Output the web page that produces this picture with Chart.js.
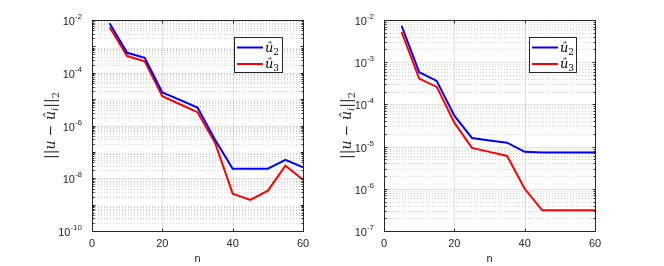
<!DOCTYPE html>
<html>
<head>
<meta charset="utf-8">
<script src="https://cdn.jsdelivr.net/npm/chart.js@4/dist/chart.umd.min.js"></script>
<style>
  html, body { margin: 0; padding: 0; background: #fff; }
  #wrap { position: relative; width: 664px; height: 266px; }
  canvas { position: absolute; top: 0; }
  #c1 { left: 0; }
  #c2 { left: 332px; }
</style>
</head>
<body>
<div id="wrap">
  <canvas id="c1" width="332" height="266"></canvas>
  <canvas id="c2" width="332" height="266"></canvas>
</div>
<script>
// data
const nVals = [5, 10, 15, 20, 25, 30, 35, 40, 45, 50, 55, 60];
const leftU2 = [7.5e-3, 5.7e-4, 3.7e-4, 1.8e-5, 9.3e-6, 4.8e-6, 2.9e-7, 2.3e-8, 2.3e-8, 2.3e-8, 5.0e-8, 2.6e-8];
const leftU3 = [5.3e-3, 4.3e-4, 2.7e-4, 1.3e-5, 6.4e-6, 3.2e-6, 2.2e-7, 2.6e-9, 1.5e-9, 3.4e-9, 3.0e-8, 8.7e-9];
const rightU2 = [7.3e-3, 5.8e-4, 3.6e-4, 5.4e-5, 1.6e-5, 1.4e-5, 1.24e-5, 7.5e-6, 7.2e-6, 7.2e-6, 7.2e-6, 7.2e-6];
const rightU3 = [5.2e-3, 4.1e-4, 2.6e-4, 3.7e-5, 9.3e-6, 7.5e-6, 6.0e-6, 1.0e-6, 3.1e-7, 3.1e-7, 3.1e-7, 3.1e-7];
const xTicks = [0, 20, 40, 60];
const leftExps = [-10, -8, -6, -4, -2];
const rightExps = [-7, -6, -5, -4, -3, -2];
const seriesNames = ['2', '3'];
const seriesColors = ['#0000ff', '#ff0000'];

const AX = '#262626';
const TICK_FONT = '11px "Liberation Sans", Arial, sans-serif';
const SUP_FONT = '8px "Liberation Sans", Arial, sans-serif';

function pts(ys) {
  return nVals.map(function(n, i) { return { x: n, y: ys[i] }; });
}

// draws grid, box, ticks, legend and labels the matlab way
function matlabAxes(exps, legendBox, ylabelX) {
  return {
    id: 'matlabAxes',
    beforeDatasetsDraw: function(chart) {
      var ctx = chart.ctx, a = chart.chartArea;
      var xs = chart.scales.x, ys = chart.scales.y;
      ctx.save();
      ctx.lineWidth = 1;
      // minor dotted grid
      ctx.strokeStyle = 'rgba(38,38,38,0.22)';
      ctx.setLineDash([1, 2]);
      for (var e = exps[0]; e < exps[exps.length - 1]; e++) {
        for (var k = 2; k <= 9; k++) {
          var y = Math.round(ys.getPixelForValue(k * Math.pow(10, e))) + 0.5;
          ctx.beginPath(); ctx.moveTo(a.left, y); ctx.lineTo(a.right, y); ctx.stroke();
        }
      }
      // major grid
      ctx.setLineDash([]);
      ctx.strokeStyle = 'rgba(38,38,38,0.13)';
      exps.forEach(function(e) {
        var y = Math.round(ys.getPixelForValue(Math.pow(10, e))) + 0.5;
        ctx.beginPath(); ctx.moveTo(a.left, y); ctx.lineTo(a.right, y); ctx.stroke();
      });
      xTicks.forEach(function(t) {
        var x = Math.round(xs.getPixelForValue(t)) + 0.5;
        ctx.beginPath(); ctx.moveTo(x, a.top); ctx.lineTo(x, a.bottom); ctx.stroke();
      });
      ctx.restore();
    },
    afterDatasetsDraw: function(chart) {
      var ctx = chart.ctx, a = chart.chartArea;
      var xs = chart.scales.x, ys = chart.scales.y;
      ctx.save();
      ctx.strokeStyle = AX;
      ctx.lineWidth = 1;
      var L = Math.round(a.left) + 0.5, R = Math.round(a.right) + 0.5;
      var T = Math.round(a.top) + 0.5, B = Math.round(a.bottom) + 0.5;
      ctx.strokeRect(L, T, R - L, B - T);
      // y ticks inside on both sides
      ctx.beginPath();
      for (var e = exps[0]; e < exps[exps.length - 1]; e++) {
        for (var k = 1; k <= 9; k++) {
          var y = Math.round(ys.getPixelForValue(k * Math.pow(10, e))) + 0.5;
          var len = k === 1 ? 3 : 2;
          ctx.moveTo(L, y); ctx.lineTo(L + len, y);
          ctx.moveTo(R, y); ctx.lineTo(R - len, y);
        }
      }
      xTicks.forEach(function(t) {
        var x = Math.round(xs.getPixelForValue(t)) + 0.5;
        ctx.moveTo(x, B); ctx.lineTo(x, B - 3);
        ctx.moveTo(x, T); ctx.lineTo(x, T + 3);
      });
      ctx.stroke();

      // tick labels
      ctx.fillStyle = AX;
      ctx.font = TICK_FONT;
      ctx.textBaseline = 'alphabetic';
      ctx.textAlign = 'center';
      xTicks.forEach(function(t) {
        ctx.fillText(String(t), xs.getPixelForValue(t), a.bottom + 16);
      });
      ctx.fillText('n', (a.left + a.right) / 2, a.bottom + 31);
      exps.forEach(function(e) {
        var y = ys.getPixelForValue(Math.pow(10, e));
        ctx.font = SUP_FONT;
        var sw = ctx.measureText(String(e).replace('-', '-')).width;
        var supX = a.left - 10 - sw;
        ctx.textAlign = 'left';
        ctx.fillText(String(e), supX, y - 1);
        ctx.font = TICK_FONT;
        ctx.textAlign = 'right';
        ctx.fillText('10', supX, y + 5);
      });

      // legend
      var lb = legendBox;
      ctx.fillStyle = '#fff';
      ctx.fillRect(lb.x, lb.y, lb.w, lb.h);
      ctx.strokeStyle = AX;
      ctx.strokeRect(lb.x + 0.5, lb.y + 0.5, lb.w, lb.h);
      chart.data.datasets.forEach(function(ds, i) {
        var yy = lb.y + 10.5 + i * 16.5;
        ctx.strokeStyle = ds.borderColor;
        ctx.lineWidth = 2;
        ctx.beginPath(); ctx.moveTo(lb.x + 3, yy); ctx.lineTo(lb.x + 29, yy); ctx.stroke();
        ctx.fillStyle = '#000';
        ctx.textAlign = 'left';
        ctx.font = 'italic 13px "DejaVu Serif", serif';
        ctx.fillText('\u00fb', lb.x + 31, yy + 4);
        var uw = ctx.measureText('\u00fb').width;
        ctx.font = '9px "DejaVu Serif", serif';
        ctx.fillText(ds.label, lb.x + 31 + uw, yy + 7);
      });

      // y label rotated
      ctx.translate(ylabelX, (a.top + a.bottom) / 2);
      ctx.rotate(-Math.PI / 2);
      var parts = [
        ['||', '14px "DejaVu Serif", serif', 0],
        ['u', 'italic 14px "DejaVu Serif", serif', 0],
        [' \u2212 ', '14px "DejaVu Serif", serif', 0],
        ['\u00fb', 'italic 14px "DejaVu Serif", serif', 0],
        ['i', 'italic 10px "DejaVu Serif", serif', 3],
        ['||', '14px "DejaVu Serif", serif', 0],
        ['2', '10px "DejaVu Serif", serif', 4]
      ];
      var total = 0;
      parts.forEach(function(p) { ctx.font = p[1]; total += ctx.measureText(p[0]).width; });
      var cx = -total / 2;
      ctx.fillStyle = AX;
      ctx.textAlign = 'left';
      parts.forEach(function(p) {
        ctx.font = p[1];
        ctx.fillText(p[0], cx, 5 + p[2]);
        cx += ctx.measureText(p[0]).width;
      });
      ctx.restore();
    }
  };
}

function makeChart(id, u2, u3, exps, pad, legendBox, ylabelX) {
  return new Chart(document.getElementById(id), {
    type: 'line',
    data: {
      datasets: [
        { label: seriesNames[0], data: pts(u2), borderColor: seriesColors[0], borderWidth: 2, pointRadius: 0, fill: false, tension: 0 },
        { label: seriesNames[1], data: pts(u3), borderColor: seriesColors[1], borderWidth: 2, pointRadius: 0, fill: false, tension: 0 }
      ]
    },
    options: {
      responsive: false,
      animation: false,
      layout: { padding: pad },
      plugins: { legend: { display: false }, tooltip: { enabled: false } },
      scales: {
        x: { type: 'linear', min: 0, max: 60, display: false },
        y: { type: 'logarithmic', min: Math.pow(10, exps[0]), max: Math.pow(10, exps[exps.length - 1]), display: false }
      }
    },
    plugins: [matlabAxes(exps, legendBox, ylabelX)]
  });
}

makeChart('c1', leftU2, leftU3, leftExps,
  { left: 92, right: 29, top: 20, bottom: 35 },
  { x: 234, y: 37, w: 48, h: 35 }, 50);
makeChart('c2', rightU2, rightU3, rightExps,
  { left: 52, right: 69, top: 20, bottom: 35 },
  { x: 197, y: 37, w: 47, h: 35 }, 14);
</script>
</body>
</html>
